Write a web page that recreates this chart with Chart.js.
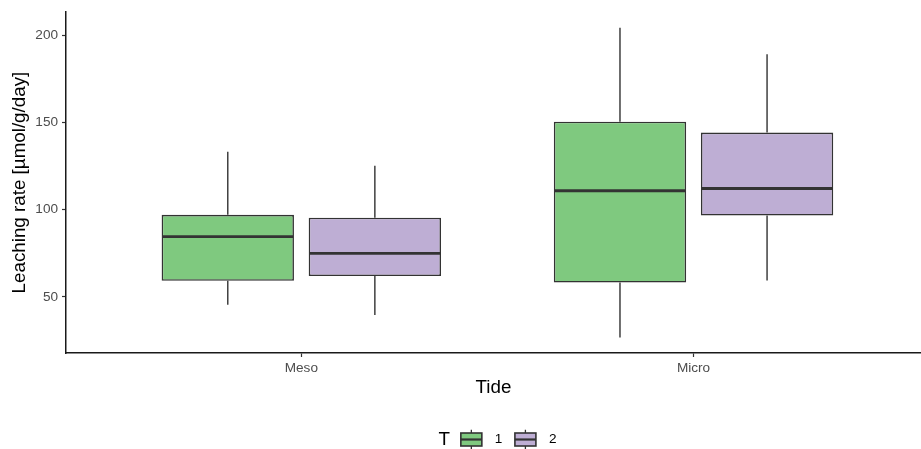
<!DOCTYPE html>
<html>
<head>
<meta charset="utf-8">
<script src="https://cdn.jsdelivr.net/npm/chart.js@4/dist/chart.umd.min.js"></script>
<style>
  html, body { margin: 0; padding: 0; background: #ffffff; }
  #wrap { width: 921px; height: 449px; }
</style>
</head>
<body>
<div id="wrap"><canvas id="chart" width="921" height="449"></canvas></div>
<script>
// Categories on the x axis and the two T groups
const tides = ['Meso', 'Micro'];
const groups = ['1', '2'];

// Box statistics per tide, group T = 1
const minT1 = [45.4, 26.6];
const q1T1 = [59.2, 58.2];
const medT1 = [84.5, 110.9];
const q3T1 = [97.1, 150.6];
const maxT1 = [133.3, 204.6];

// Box statistics per tide, group T = 2
const minT2 = [39.5, 59.4];
const q1T2 = [61.9, 96.7];
const medT2 = [74.9, 112.2];
const q3T2 = [95.4, 144.3];
const maxT2 = [125.3, 189.3];

// Y tick values
const yTicks = [50, 100, 150, 200];

const fills = ['#7FC97F', '#BEAED4'];
const ink = '#333333';
const FONT = "'Liberation Sans', Arial, sans-serif";
const TITLE_SIZE = 18.8;
const TEXT_SIZE = 13.6;

const stats = [
  { min: minT1, q1: q1T1, med: medT1, q3: q3T1, max: maxT1 },
  { min: minT2, q1: q1T2, med: medT2, q3: q3T2, max: maxT2 }
];

// y range padded by 5% of the data span
const allVals = stats.flatMap(s => [...s.min, ...s.max]);
const lo = Math.min(...allVals), hi = Math.max(...allVals);
const pad = (hi - lo) * 0.05;

const datasets = groups.map((g, i) => ({
  label: g,
  data: tides.map((t, j) => ({ x: j + 1, y: [stats[i].q1[j], stats[i].q3[j]] })),
  backgroundColor: fills[i],
  borderColor: ink,
  borderWidth: 1.6,
  borderSkipped: false,
  barPercentage: 0.9,
  categoryPercentage: 0.75
}));

// Whiskers under the boxes, medians on top
const boxParts = {
  id: 'boxParts',
  beforeDatasetsDraw(chart) {
    const ctx = chart.ctx, y = chart.scales.y;
    ctx.save();
    ctx.strokeStyle = ink;
    ctx.lineWidth = 1.4;
    stats.forEach((s, i) => {
      chart.getDatasetMeta(i).data.forEach((bar, j) => {
        ctx.beginPath();
        ctx.moveTo(bar.x, y.getPixelForValue(s.q3[j]));
        ctx.lineTo(bar.x, y.getPixelForValue(s.max[j]));
        ctx.moveTo(bar.x, y.getPixelForValue(s.q1[j]));
        ctx.lineTo(bar.x, y.getPixelForValue(s.min[j]));
        ctx.stroke();
      });
    });
    ctx.restore();
  },
  afterDatasetsDraw(chart) {
    const ctx = chart.ctx, y = chart.scales.y;
    ctx.save();
    ctx.strokeStyle = ink;
    ctx.lineWidth = 2.8;
    stats.forEach((s, i) => {
      chart.getDatasetMeta(i).data.forEach((bar, j) => {
        const yp = y.getPixelForValue(s.med[j]);
        ctx.beginPath();
        ctx.moveTo(bar.x - bar.width / 2 + 0.8, yp);
        ctx.lineTo(bar.x + bar.width / 2 - 0.8, yp);
        ctx.stroke();
      });
    });
    ctx.restore();
  }
};

// Legend row: title "T" followed by box glyph keys
const boxLegend = {
  id: 'boxLegend',
  afterDraw(chart) {
    const ctx = chart.ctx;
    const cx = chart.scales.x.getPixelForValue(1.5);
    const cy = chart.height - 9.5;
    const keyW = 21, boxH = 13, whH = 19.5;
    ctx.save();
    ctx.font = TITLE_SIZE + 'px ' + FONT;
    const titleW = ctx.measureText('T').width;
    ctx.font = TEXT_SIZE + 'px ' + FONT;
    const labW = groups.map(g => ctx.measureText(g).width);
    const total = titleW + 11 + groups.reduce((a, g, i) => a + keyW + 13 + labW[i], 0) + 12.5 * (groups.length - 1);
    let x = cx - total / 2;
    ctx.fillStyle = '#000000';
    ctx.textBaseline = 'middle';
    ctx.textAlign = 'left';
    ctx.font = TITLE_SIZE + 'px ' + FONT;
    ctx.fillText('T', x, cy);
    x += titleW + 11;
    groups.forEach((g, i) => {
      const mid = x + keyW / 2;
      ctx.strokeStyle = ink;
      ctx.lineWidth = 1.3;
      ctx.beginPath();
      ctx.moveTo(mid, cy - whH / 2);
      ctx.lineTo(mid, cy + whH / 2);
      ctx.stroke();
      ctx.fillStyle = fills[i];
      ctx.fillRect(x, cy - boxH / 2, keyW, boxH);
      ctx.lineWidth = 1.6;
      ctx.strokeRect(x, cy - boxH / 2, keyW, boxH);
      ctx.lineWidth = 2.2;
      ctx.beginPath();
      ctx.moveTo(x, cy);
      ctx.lineTo(x + keyW, cy);
      ctx.stroke();
      x += keyW + 13;
      ctx.fillStyle = '#000000';
      ctx.font = TEXT_SIZE + 'px ' + FONT;
      ctx.fillText(g, x, cy);
      x += labW[i] + 12.5;
    });
    ctx.restore();
  }
};

new Chart(document.getElementById('chart'), {
  type: 'bar',
  data: { datasets },
  plugins: [boxParts, boxLegend],
  options: {
    responsive: false,
    devicePixelRatio: 1,
    animation: false,
    events: [],
    layout: { padding: { top: 12, right: 0, bottom: 40, left: 0 } },
    plugins: { legend: { display: false }, tooltip: { enabled: false } },
    scales: {
      x: {
        type: 'linear',
        min: 0.4,
        max: 2.58,
        offset: false,
        afterBuildTicks: s => { s.ticks = tides.map((t, j) => ({ value: j + 1 })); },
        afterFit: s => { s.height = 56; },
        ticks: {
          callback: v => tides[Math.round(v) - 1],
          color: '#4D4D4D',
          font: { family: FONT, size: TEXT_SIZE },
          padding: 3,
          maxRotation: 0,
          autoSkip: false
        },
        grid: { offset: false, drawOnChartArea: false, drawTicks: true, tickLength: 4, tickColor: ink, tickWidth: 1.2 },
        border: { display: true, color: '#1a1a1a', width: 1.5 },
        title: {
          display: true,
          text: 'Tide',
          color: '#000000',
          font: { family: FONT, size: TITLE_SIZE },
          padding: { top: 0, bottom: 10 }
        }
      },
      y: {
        min: lo - pad,
        max: hi + pad,
        afterBuildTicks: s => { s.ticks = yTicks.map(v => ({ value: v })); },
        afterFit: s => { s.width = 66; },
        ticks: {
          color: '#4D4D4D',
          font: { family: FONT, size: TEXT_SIZE },
          padding: 4
        },
        grid: { drawOnChartArea: false, drawTicks: true, tickLength: 4, tickColor: ink, tickWidth: 1.2 },
        border: { display: true, color: '#1a1a1a', width: 1.5 },
        title: {
          display: true,
          text: 'Leaching rate [µmol/g/day]',
          color: '#000000',
          font: { family: FONT, size: TITLE_SIZE },
          padding: { top: 9, bottom: 0 }
        }
      }
    }
  }
});
</script>
</body>
</html>
